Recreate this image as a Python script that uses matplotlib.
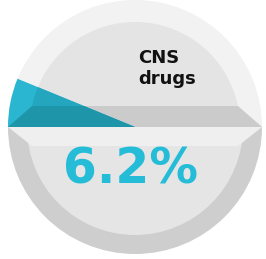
import numpy as np
import matplotlib
matplotlib.use('Agg')
import matplotlib.pyplot as plt
from matplotlib.patches import Wedge, Polygon

# data
label_lines = ['CNS', 'drugs']
share_pct = [6.2]
value_text = ['6.2%']

fig = plt.figure(figsize=(2.66, 2.59), dpi=100)
ax = fig.add_axes([0, 0, 1, 1])
ax.set_xlim(0, 266)
ax.set_ylim(259, 0)
ax.axis('off')

cx, cy = 135, 127
R = 127

# outer halves (top light, bottom darker)
ax.add_patch(Wedge((cx, cy), R, 180, 360, color='#f2f2f2', lw=0))
ax.add_patch(Wedge((cx, cy), R, 0, 180, color='#cecece', lw=0))

# top inner disk
top_inner = Wedge((cx, cy), 105, 180, 360, color='#e4e4e4', lw=0)
ax.add_patch(top_inner)

# bottom inner disk
ax.add_patch(Wedge((cx, cy), 108, 0, 180, color='#e5e5e5', lw=0))

# dark band (edge of the lid)
band = Polygon([[32, 106], [238, 106], [262, 127], [8, 127]], closed=True,
               color='#cbcbcb', lw=0)
ax.add_patch(band)

# light band below
ax.add_patch(Polygon([[8, 127], [262, 127], [238, 146], [32, 146]], closed=True,
                     color='#efefef', lw=0))

# share wedge, three shades
ang = 360 * share_pct[0] / 100
w1 = Wedge((cx, cy), R, 180, 180 + ang, color='#2ab6d0', lw=0, zorder=3)
ax.add_patch(w1)
w2 = Wedge((cx, cy), R, 180, 180 + ang, color='#23a6be', lw=0, zorder=4)
ax.add_patch(w2)
w2.set_clip_path(top_inner)
w3 = Wedge((cx, cy), R, 180, 180 + ang, color='#1f95aa', lw=0, zorder=5)
ax.add_patch(w3)
w3.set_clip_path(band)

# labels
ax.text(138, 63, label_lines[0], ha='left', va='baseline', fontsize=13,
        fontweight='bold', color='#111111', family='DejaVu Sans')
ax.text(138, 84, label_lines[1], ha='left', va='baseline', fontsize=13,
        fontweight='bold', color='#111111', family='DejaVu Sans')
ax.text(131, 183, value_text[0], ha='center', va='baseline', fontsize=35,
        fontweight='bold', color='#24bcd7', family='DejaVu Sans')

plt.savefig('out.png', dpi=100)
